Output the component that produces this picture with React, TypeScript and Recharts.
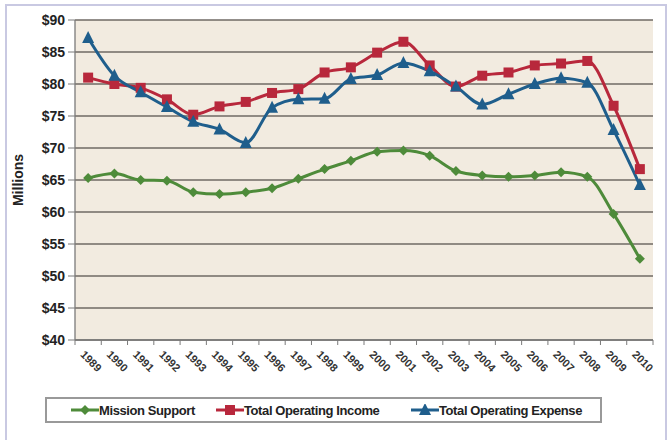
import React from 'react';
import { LineChart, Line, XAxis, YAxis, CartesianGrid } from 'recharts';

const years = ['1989', '1990', '1991', '1992', '1993', '1994', '1995', '1996', '1997', '1998', '1999', '2000', '2001', '2002', '2003', '2004', '2005', '2006', '2007', '2008', '2009', '2010'];
const missionSupport = [65.3, 66.0, 65.0, 64.9, 63.1, 62.8, 63.1, 63.7, 65.2, 66.7, 68.0, 69.4, 69.6, 68.8, 66.4, 65.7, 65.5, 65.7, 66.2, 65.5, 59.7, 52.7];
const totalOperatingIncome = [81.0, 80.0, 79.4, 77.6, 75.2, 76.5, 77.2, 78.6, 79.2, 81.8, 82.6, 84.9, 86.6, 82.9, 79.6, 81.3, 81.8, 82.9, 83.2, 83.6, 76.6, 66.7];
const totalOperatingExpense = [87.2, 81.3, 78.7, 76.4, 74.1, 72.9, 70.8, 76.3, 77.6, 77.7, 80.8, 81.4, 83.3, 82.0, 79.6, 76.8, 78.4, 80.0, 80.9, 80.2, 72.8, 64.2];
const yTicks = [40, 45, 50, 55, 60, 65, 70, 75, 80, 85, 90];
const seriesNames = ['Mission Support', 'Total Operating Income', 'Total Operating Expense'];

const data = years.map((year, i) => ({
  year,
  mission: missionSupport[i],
  income: totalOperatingIncome[i],
  expense: totalOperatingExpense[i],
}));

const W = 671;
const H = 440;
const PLOT_LEFT = 75;
const PLOT_RIGHT = 653;
const PLOT_TOP = 20;
const PLOT_BOTTOM = 340;
const HALF = (PLOT_RIGHT - PLOT_LEFT) / years.length / 2;
const X_AXIS_H = 40;

const GREEN = '#4E8B3A';
const RED = '#B8283C';
const BLUE = '#1F5E8C';
const FONT = '"Liberation Sans Narrow", "Arial Narrow", "Liberation Sans", Arial, sans-serif';

const Diamond = (props: any) => {
  const { cx, cy, fill } = props;
  if (cx == null || cy == null) return null;
  const s = 5;
  return <path d={`M${cx},${cy - s}L${cx + s},${cy}L${cx},${cy + s}L${cx - s},${cy}Z`} fill={fill} />;
};
const Square = (props: any) => {
  const { cx, cy, fill } = props;
  if (cx == null || cy == null) return null;
  const s = 5;
  return <rect x={cx - s} y={cy - s} width={2 * s} height={2 * s} fill={fill} />;
};
const Triangle = (props: any) => {
  const { cx, cy, fill } = props;
  if (cx == null || cy == null) return null;
  const s = 6;
  return <path d={`M${cx},${cy - s - 1}L${cx + s},${cy + s - 1}L${cx - s},${cy + s - 1}Z`} fill={fill} />;
};

const XTick = (props: any) => {
  const { x, y, payload, index } = props;
  return (
    <g>
      <line x1={x - HALF} y1={y} x2={x - HALF} y2={y + 5} stroke="#7a7a7a" strokeWidth={1} />
      {index === years.length - 1 && (
        <line x1={x + HALF} y1={y} x2={x + HALF} y2={y + 5} stroke="#7a7a7a" strokeWidth={1} />
      )}
      <text
        x={0}
        y={0}
        transform={`translate(${x + 3},${y + 21}) rotate(45)`}
        textAnchor="middle"
        dominantBaseline="central"
        fontFamily={FONT}
        fontWeight="bold"
        fontSize={11}
        fill="#333"
      >
        {payload.value}
      </text>
    </g>
  );
};

const LegendItem = ({ color, name, kind, width }: { color: string; name: string; kind: string; width?: number }) => (
  <div style={{ display: 'flex', alignItems: 'center', width, whiteSpace: 'nowrap' }}>
    <svg width={28} height={12} style={{ marginRight: 0, flex: 'none' }}>
      <line x1={0} y1={6} x2={28} y2={6} stroke={color} strokeWidth={3} />
      {kind === 'diamond' && <Diamond cx={14} cy={6} fill={color} />}
      {kind === 'square' && <Square cx={14} cy={6} fill={color} />}
      {kind === 'triangle' && <Triangle cx={14} cy={6} fill={color} />}
    </svg>
    <span>{name}</span>
  </div>
);

export default function App() {
  return (
    <div style={{ position: 'absolute', left: 0, top: 0, width: W, height: H, background: '#fff', overflow: 'hidden' }}>
      <div
        style={{
          position: 'absolute',
          left: 5,
          top: 4,
          width: 662,
          height: 450,
          border: '2px solid #c9c9e2',
          boxSizing: 'border-box',
        }}
      />
      <div style={{ position: 'absolute', left: 0, top: 0 }}>
        <LineChart
          width={W}
          height={H}
          data={data}
          margin={{ top: PLOT_TOP, right: W - PLOT_RIGHT, left: 15, bottom: H - PLOT_BOTTOM - X_AXIS_H }}
        >
          <CartesianGrid vertical={false} fill="#F2EBE0" stroke="#6f6a64" strokeWidth={1.3} />
          <XAxis
            dataKey="year"
            height={X_AXIS_H}
            padding={{ left: HALF, right: HALF }}
            tickLine={false}
            tickSize={0}
            tickMargin={0}
            axisLine={{ stroke: '#7a7a7a', strokeWidth: 1.3 }}
            tick={<XTick />}
            interval={0}
          />
          <YAxis
            width={PLOT_LEFT - 15}
            domain={[40, 90]}
            ticks={yTicks}
            allowDataOverflow
            tickFormatter={(v: number) => `$${v}`}
            axisLine={{ stroke: '#7a7a7a', strokeWidth: 1.3 }}
            tickLine={{ stroke: '#7a7a7a' }}
            tickSize={7}
            tickMargin={3}
            tick={{ fontFamily: FONT, fontWeight: 'bold', fontSize: 14, fill: '#222' }}
          />
          <Line
            type="monotone"
            dataKey="mission"
            name={seriesNames[0]}
            stroke={GREEN}
            strokeWidth={3}
            dot={<Diamond fill={GREEN} />}
            isAnimationActive={false}
          />
          <Line
            type="monotone"
            dataKey="income"
            name={seriesNames[1]}
            stroke={RED}
            strokeWidth={3}
            dot={<Square fill={RED} />}
            isAnimationActive={false}
          />
          <Line
            type="monotone"
            dataKey="expense"
            name={seriesNames[2]}
            stroke={BLUE}
            strokeWidth={3}
            dot={<Triangle fill={BLUE} />}
            isAnimationActive={false}
          />
        </LineChart>
      </div>
      <div
        style={{
          position: 'absolute',
          left: 10,
          top: 180,
          transform: 'translate(-50%, -50%) rotate(-90deg)',
          marginLeft: 8,
          fontFamily: FONT,
          fontWeight: 'bold',
          fontSize: 14,
          color: '#222',
          whiteSpace: 'nowrap',
        }}
      >
        Millions
      </div>
      <div
        style={{
          position: 'absolute',
          left: 45,
          top: 397,
          width: 557,
          height: 26,
          border: '2px solid #999',
          boxSizing: 'border-box',
          display: 'flex',
          alignItems: 'center',
          paddingLeft: 24,
          fontFamily: FONT,
          fontWeight: 'bold',
          fontSize: 13,
          letterSpacing: -0.4,
          color: '#222',
          background: '#fff',
          whiteSpace: 'nowrap',
        }}
      >
        <LegendItem color={GREEN} name={seriesNames[0]} kind="diamond" width={145} />
        <LegendItem color={RED} name={seriesNames[1]} kind="square" width={195} />
        <LegendItem color={BLUE} name={seriesNames[2]} kind="triangle" />
      </div>
    </div>
  );
}
